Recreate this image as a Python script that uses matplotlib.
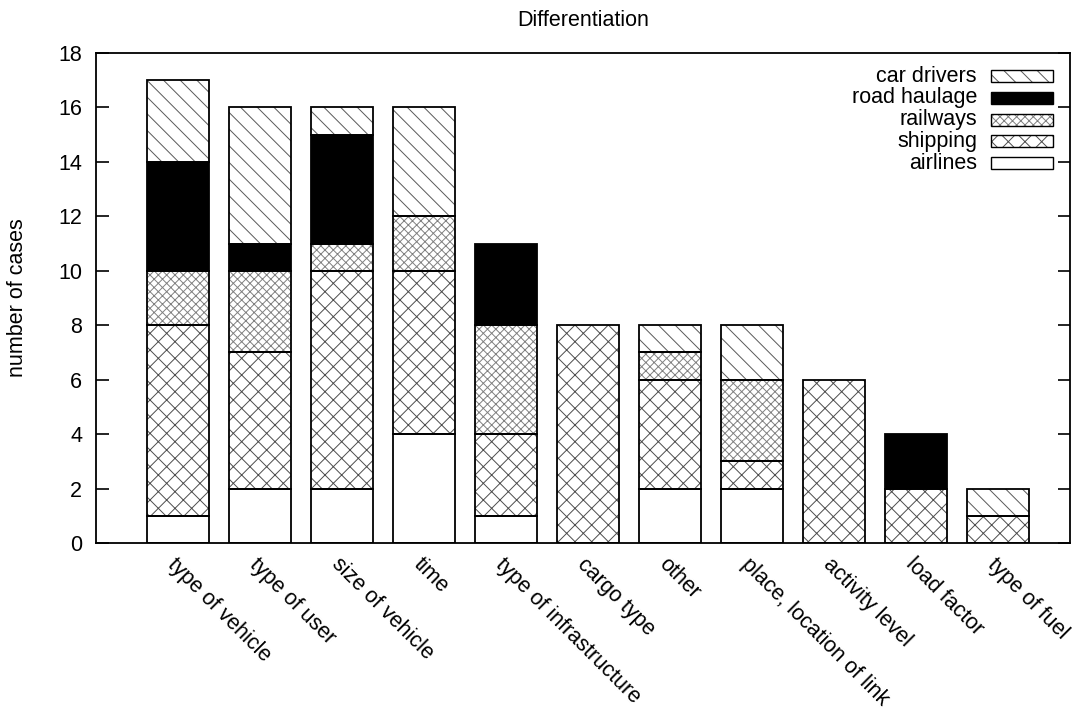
import numpy as np
import matplotlib
matplotlib.use("Agg")
import matplotlib.pyplot as plt
from matplotlib.patches import Rectangle
from matplotlib.transforms import blended_transform_factory

categories = ["type of vehicle", "type of user", "size of vehicle", "time",
              "type of infrastructure", "cargo type", "other",
              "place, location of link", "activity level", "load factor",
              "type of fuel"]
airlines = [1, 2, 2, 4, 1, 0, 2, 2, 0, 0, 0]
shipping = [7, 5, 8, 6, 3, 8, 4, 1, 6, 2, 1]
railways = [2, 3, 1, 2, 4, 0, 1, 3, 0, 0, 0]
road_haulage = [4, 1, 4, 0, 3, 0, 0, 0, 0, 2, 0]
car_drivers = [3, 5, 1, 4, 0, 0, 1, 2, 0, 0, 1]

series = [("airlines", airlines), ("shipping", shipping), ("railways", railways),
          ("road haulage", road_haulage), ("car drivers", car_drivers)]
# fill, hatch, hatch colour per series
styles = {
    "airlines": ("white", "", "black"),
    "shipping": ("white", "xx", "0.3"),
    "railways": ("white", "xxxx", "0.5"),
    "road haulage": ("black", "", "black"),
    "car drivers": ("white", "\\\\", "0.35"),
}

FS = 15.5
plt.rcParams['font.family'] = ['Liberation Sans', 'DejaVu Sans']
plt.rcParams['font.size'] = FS
plt.rcParams['hatch.linewidth'] = 0.7

W, H = 1080, 709
fig = plt.figure(figsize=(W / 100, H / 100), dpi=100)
ax = fig.add_axes([96 / W, 1 - 543 / H, (1070 - 96) / W, (543 - 53) / H])

x = np.arange(len(categories))
width = 0.755
bottom = np.zeros(len(categories))
for name, vals in series:
    vals = np.array(vals, dtype=float)
    fc, hatch, hc = styles[name]
    mask = vals > 0
    ax.bar(x[mask], vals[mask], width, bottom=bottom[mask], color=fc,
           hatch=hatch, edgecolor=hc, linewidth=0, zorder=2)
    ax.bar(x[mask], vals[mask], width, bottom=bottom[mask], fill=False,
           edgecolor="black", linewidth=1.3, zorder=3)
    bottom += vals

ax.set_xlim(-1, 10.88)
ax.set_ylim(0, 18)
ax.set_yticks(range(0, 19, 2))
ax.tick_params(axis='y', direction='in', length=9, width=1.2, left=True, right=True, pad=10)
ax.set_xticks(x)
ax.set_xticklabels(categories, rotation=-45, ha='left', va='top',
                   rotation_mode='anchor')
ax.tick_params(axis='x', length=0, pad=8)
for s in ax.spines.values():
    s.set_linewidth(1.3)

ax.set_ylabel("number of cases")
ax.yaxis.set_label_coords(28 / W, 0.5,
                          transform=blended_transform_factory(fig.transFigure, ax.transAxes))
fig.text((96 + 1070) / 2 / W, 1 - 21 / H, "Differentiation", ha='center', va='center')

# legend: label right-aligned, swatch on the right, top entry = top of stack
for i, (name, _) in enumerate(series[::-1]):
    yc = 76 + 21.8 * i
    fc, hatch, hc = styles[name]
    fig.text(977 / W, 1 - yc / H, name, ha='right', va='center')
    fig.add_artist(Rectangle((991 / W, 1 - (yc + 6) / H), 62 / W, 12 / H,
                             transform=fig.transFigure, facecolor=fc,
                             hatch=hatch, edgecolor=hc, linewidth=0))
    fig.add_artist(Rectangle((991 / W, 1 - (yc + 6) / H), 62 / W, 12 / H,
                             transform=fig.transFigure, fill=False,
                             edgecolor="black", linewidth=1.0))

fig.savefig("out.png", dpi=100)
